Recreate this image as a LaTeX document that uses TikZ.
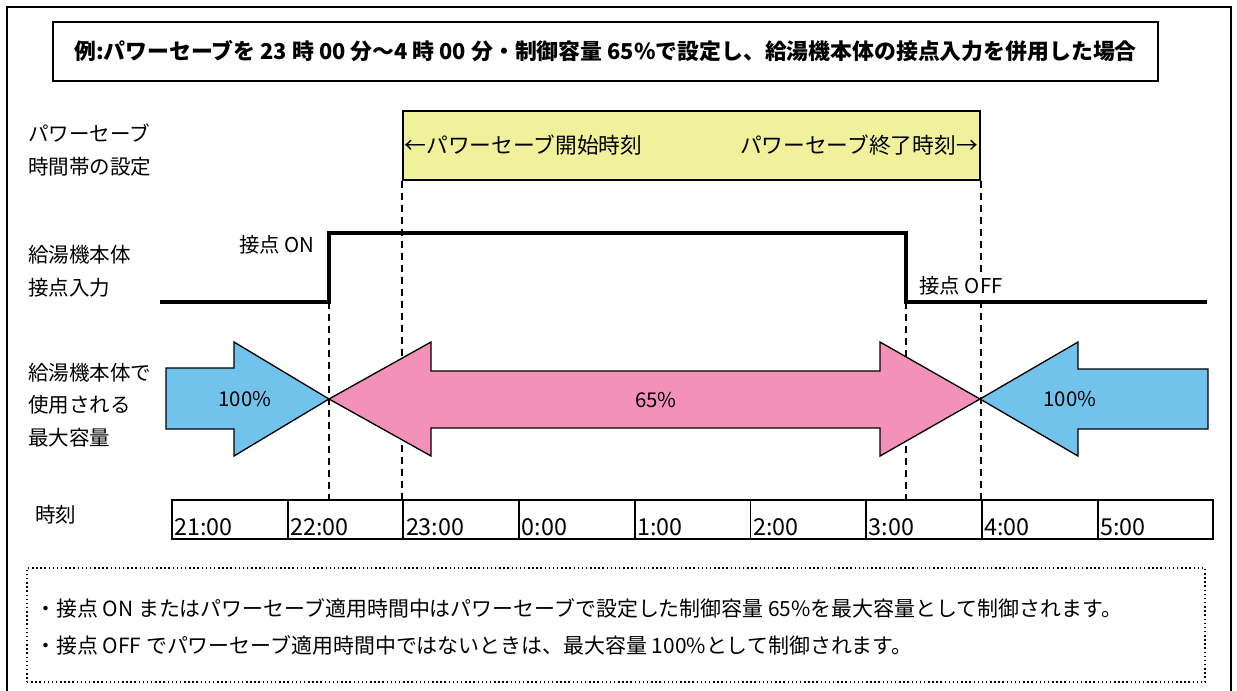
\documentclass[tikz,border=0pt]{standalone}
\usepackage{fontspec}
\setmainfont{Noto Sans CJK JP}
\usepackage{xcolor}
\usepackage{tikz}
\usetikzlibrary{positioning}
\definecolor{fullblue}{RGB}{114,195,236}
\definecolor{savepink}{RGB}{243,145,187}
\definecolor{bandyellow}{RGB}{241,241,155}

\begin{document}
\begin{tikzpicture}[
x=0.75pt,y=-0.75pt,
font=\fontsize{15.3}{18}\selectfont,
frame/.style={draw, line width=1.5pt},
titlebox/.style={draw, line width=1.5pt, minimum width=828.75pt, minimum height=44.25pt, inner sep=0pt},
psband/.style={draw, line width=1.1pt, fill=bandyellow, minimum width=432.75pt, minimum height=51.75pt, inner sep=0pt},
rowlbl/.style={anchor=west, align=left, inner sep=0pt, font=\fontsize{15.4}{24.5}\selectfont},
txt/.style={inner sep=0pt},
contact/.style={line width=2.6pt, line join=miter},
guide/.style={line width=1.4pt, dash pattern=on 5.25pt off 3.75pt},
capa/.style={draw, line width=1pt, line join=miter},
cell/.style={draw, line width=1.4pt, minimum width=86.8pt, minimum height=29pt, anchor=north west, inner sep=0pt},
tick/.style={anchor=south west, inner sep=0pt, xshift=2.5pt, yshift=2.5pt, font=\fontsize{17.5}{20}\selectfont},
notebox/.style={draw, dotted, line width=1.1pt, minimum width=883.5pt, minimum height=85.5pt, inner sep=0pt},
noteline/.style={anchor=west, inner sep=0pt, font=\fontsize{15.7}{18}\selectfont}
]
\useasboundingbox (0,0) rectangle (1237,690);
\draw[frame] (7,695) -- (7,7) -- (1231,7) -- (1231,695);
\node[titlebox] (title) at (605.5,51.5) {\fontsize{16.4}{19}\selectfont\bfseries 例:パワーセーブを 23 時 00 分～4 時 00 分・制御容量 65\%で設定し、給湯機本体の接点入力を併用した場合};
\node[rowlbl] (pslbl) at (28,150) {パワーセーブ\\時間帯の設定};
\node[rowlbl] (inlbl) at (28,271) {給湯機本体\\接点入力};
\node[rowlbl] (maxlbl) at (28,405) {給湯機本体で\\使用される\\最大容量};
\node[rowlbl] (timelbl) at (35,515) {時刻};
\node[psband] (band) at (691.5,145.5) {};
\node[txt, anchor=west, font=\fontsize{16.3}{19}\selectfont] (psstart) at ([xshift=1.5pt]band.west) {←パワーセーブ開始時刻};
\node[txt, anchor=east, font=\fontsize{16.3}{19}\selectfont] (psend) at ([xshift=-2pt]band.east) {パワーセーブ終了時刻→};
\foreach \t [count=\i from 0] in {21:00,22:00,23:00,0:00,1:00,2:00,3:00,4:00,5:00} {\node[cell] (c\i) at (171+115.7*\i,499) {}; \node[tick] (t\i) at (c\i.south west) {\t};}
\coordinate (lowstart) at (160,302);
\coordinate (onlow) at (329,302);
\coordinate (onup) at (329,233);
\coordinate (offup) at (906,233);
\coordinate (offlow) at (906,302);
\coordinate (lowend) at (1207,302);
\draw[guide] (onlow) -- (onlow |- c0.north);
\draw[guide] (band.south west) -- (band.south west |- c0.north);
\draw[guide] (offlow) -- (offlow |- c0.north);
\draw[guide] (band.south east) -- (band.south east |- c0.north);
\draw[contact] (lowstart) -- (onlow) -- (onup) -- (offup) -- (offlow) -- (lowend);
\node[txt] (onlbl) at (277,245) {接点 ON};
\node[txt, fill=white, inner sep=1pt] (offlbl) at (961,286) {接点 OFF};
\draw[capa, fill=fullblue] (166,368) -- (234,368) -- (234,342) -- (329,399) -- (234,456) -- (234,429) -- (166,429) -- cycle;
\draw[capa, fill=savepink] (329,399) -- (431,342) -- (431,371) -- (880,371) -- (880,342) -- (980,399) -- (880,456) -- (880,428) -- (431,428) -- (431,456) -- cycle;
\draw[capa, fill=fullblue] (980,399) -- (1078,342) -- (1078,369) -- (1208,369) -- (1208,429) -- (1078,429) -- (1078,456) -- cycle;
\node[txt] (full1) at (245,399) {100\%};
\node[txt] (save) at (656,400) {65\%};
\node[txt] (full2) at (1070,399) {100\%};
\node[notebox] (notes) at (616,625) {};
\node[noteline] (n1) at (35,608) {・接点 ON またはパワーセーブ適用時間中はパワーセーブで設定した制御容量 65\%を最大容量として制御されます。};
\node[noteline] (n2) at (35,645) {・接点 OFF でパワーセーブ適用時間中ではないときは、最大容量 100\%として制御されます。};
\end{tikzpicture}
\end{document}
